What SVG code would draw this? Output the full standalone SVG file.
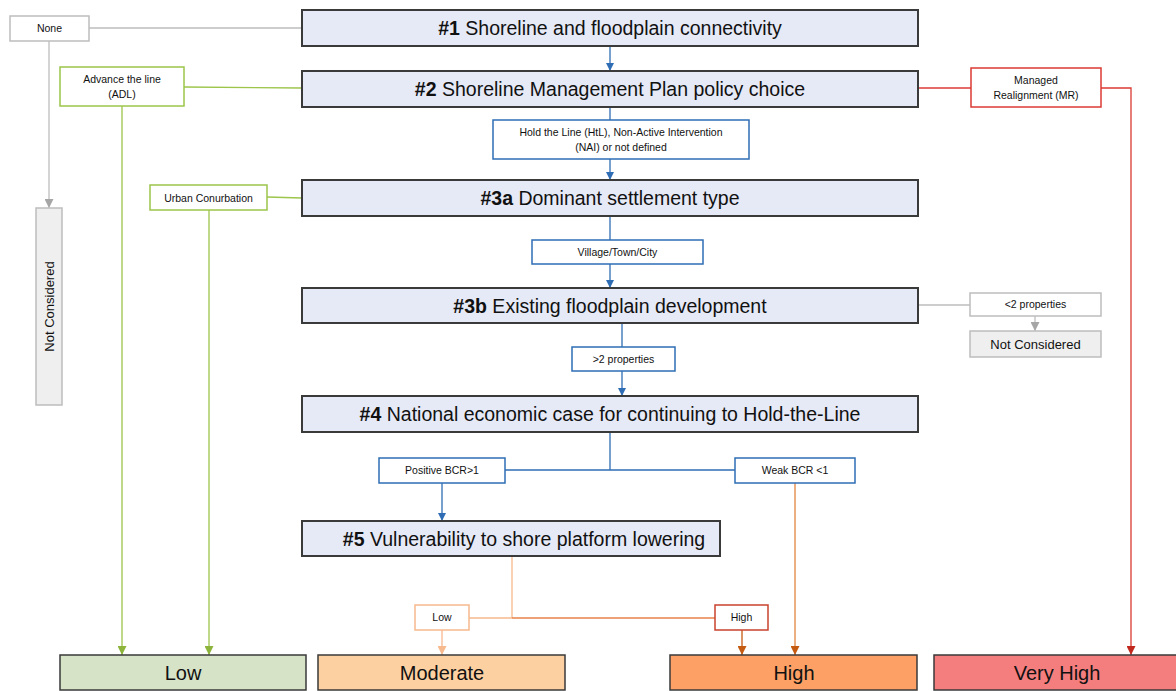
<svg xmlns="http://www.w3.org/2000/svg" width="1176" height="691" viewBox="0 0 1176 691">
<style>
text{font-family:"Liberation Sans",Arial,sans-serif;fill:#111;text-anchor:middle}
.q{fill:#e6e9f6;stroke:#3a3a3a;stroke-width:2}
.t{font-size:19.5px}
.t tspan.b{font-weight:bold}
.s{font-size:10.5px}
.lb{fill:#fff;stroke-width:1.5}
.blue{stroke:#2e6db4}
.grey{stroke:#bdbdbd}
.green{stroke:#9cc54a}
.red{stroke:#db3a34}
.lor{stroke:#f7b98e}
.dred{stroke:#c9412e}
.res{stroke:#3a3a3a;stroke-width:1.5}
.big{font-size:20px}
.c{fill:none;stroke-width:1.3}
</style>
<defs>
<marker id="ab" viewBox="0 0 10 10" refX="10" refY="5" markerWidth="8" markerHeight="8" markerUnits="userSpaceOnUse" orient="auto"><path d="M0,0L10,5L0,10z" fill="#2e6db4"/></marker>
<marker id="ag" viewBox="0 0 10 10" refX="10" refY="5" markerWidth="9" markerHeight="9" markerUnits="userSpaceOnUse" orient="auto"><path d="M0,0L10,5L0,10z" fill="#a6a6a6"/></marker>
<marker id="agr" viewBox="0 0 10 10" refX="10" refY="5" markerWidth="9" markerHeight="9" markerUnits="userSpaceOnUse" orient="auto"><path d="M0,0L10,5L0,10z" fill="#8db43a"/></marker>
<marker id="ar" viewBox="0 0 10 10" refX="10" refY="5" markerWidth="9" markerHeight="9" markerUnits="userSpaceOnUse" orient="auto"><path d="M0,0L10,5L0,10z" fill="#c0281e"/></marker>
<marker id="alo" viewBox="0 0 10 10" refX="10" refY="5" markerWidth="9" markerHeight="9" markerUnits="userSpaceOnUse" orient="auto"><path d="M0,0L10,5L0,10z" fill="#f7b98e"/></marker>
<marker id="ao" viewBox="0 0 10 10" refX="10" refY="5" markerWidth="9" markerHeight="9" markerUnits="userSpaceOnUse" orient="auto"><path d="M0,0L10,5L0,10z" fill="#c55a11"/></marker>
</defs>

<g id="connectors">
<path class="c grey" d="M89,28H302"/>
<path class="c grey" d="M49,41V208" marker-end="url(#ag)"/>
<path class="c grey" d="M918,305H970"/>
<path class="c grey" d="M1035,316V331" marker-end="url(#ag)"/>
<path class="c green" d="M184,87L302,88"/>
<path class="c green" d="M122,106V655" marker-end="url(#agr)"/>
<path class="c green" d="M267,197L302,198"/>
<path class="c green" d="M209,210V655" marker-end="url(#agr)"/>
<path class="c red" d="M918,88H971"/>
<path class="c red" d="M1101,88H1131V655" marker-end="url(#ar)"/>
<path class="c blue" d="M610,46V71" marker-end="url(#ab)"/>
<path class="c blue" d="M610,107V120"/>
<path class="c blue" d="M610,159V180" marker-end="url(#ab)"/>
<path class="c blue" d="M610,216V240"/>
<path class="c blue" d="M610,264V288" marker-end="url(#ab)"/>
<path class="c blue" d="M622,323V347"/>
<path class="c blue" d="M622,371V396" marker-end="url(#ab)"/>
<path class="c blue" d="M610,432V470M505,470H735"/>
<path class="c blue" d="M442,483V521" marker-end="url(#ab)"/>
<path class="c" stroke="#e2843f" d="M795,483V655" marker-end="url(#ao)"/>
<path class="c lor" d="M512,556V618M469,618H512"/>
<path class="c" stroke="#e9804a" d="M512,618H715"/>
<path class="c lor" d="M442,630V655" marker-end="url(#alo)"/>
<path class="c" stroke="#c55a11" d="M742,630V655" marker-end="url(#ao)"/>
</g>

<g id="n1"><rect class="q" x="302" y="10" width="616" height="36"/><text class="t" x="610" y="35"><tspan class="b">#1</tspan> Shoreline and floodplain connectivity</text></g>
<g id="n2"><rect class="q" x="302" y="71" width="616" height="36"/><text class="t" x="610" y="96"><tspan class="b">#2</tspan> Shoreline Management Plan policy choice</text></g>
<g id="n3a"><rect class="q" x="302" y="180" width="616" height="36"/><text class="t" x="610" y="205"><tspan class="b">#3a</tspan> Dominant settlement type</text></g>
<g id="n3b"><rect class="q" x="302" y="288" width="616" height="35"/><text class="t" x="610" y="313"><tspan class="b">#3b</tspan> Existing floodplain development</text></g>
<g id="n4"><rect class="q" x="302" y="396" width="616" height="36"/><text class="t" x="610" y="421"><tspan class="b">#4</tspan> National economic case for continuing to Hold-the-Line</text></g>
<g id="n5"><rect class="q" x="302" y="521" width="418" height="35"/><text class="t" x="524" y="546"><tspan class="b">#5</tspan> Vulnerability to shore platform lowering</text></g>

<g id="none"><rect class="lb grey" x="10" y="16" width="79" height="25"/><text class="s" x="49.5" y="32">None</text></g>
<g id="notconsidered-left"><rect x="36" y="208" width="26" height="197" fill="#efefef" stroke="#bdbdbd" stroke-width="1.5"/><text x="53.5" y="306.5" font-size="13" transform="rotate(-90 53.5 306.5)">Not Considered</text></g>
<g id="adl"><rect class="lb green" x="60" y="67" width="124" height="39"/><text class="s" x="122" y="83">Advance the line</text><text class="s" x="122" y="98">(ADL)</text></g>
<g id="urban"><rect class="lb green" x="150" y="185" width="117" height="25"/><text class="s" x="208.5" y="201.5" font-size="11">Urban Conurbation</text></g>
<g id="mr"><rect class="lb red" x="971" y="68" width="130" height="39"/><text class="s" x="1036" y="84">Managed</text><text class="s" x="1036" y="99">Realignment (MR)</text></g>
<g id="htl"><rect class="lb blue" x="493" y="120" width="256" height="39"/><text class="s" x="621" y="136">Hold the Line (HtL), Non-Active Intervention</text><text class="s" x="621" y="151">(NAI) or not defined</text></g>
<g id="village"><rect class="lb blue" x="532" y="240" width="171" height="24"/><text class="s" x="617.5" y="256">Village/Town/City</text></g>
<g id="lt2"><rect class="lb grey" x="970" y="293" width="131" height="23"/><text class="s" x="1035.5" y="308">&lt;2 properties</text></g>
<g id="notconsidered-right"><rect x="970" y="331" width="131" height="26" fill="#efefef" stroke="#bdbdbd" stroke-width="1.5"/><text x="1035.5" y="349" font-size="13">Not Considered</text></g>
<g id="gt2"><rect class="lb blue" x="572" y="347" width="103" height="24"/><text class="s" x="623.5" y="363">&gt;2 properties</text></g>
<g id="pos"><rect class="lb blue" x="379" y="458" width="126" height="25"/><text class="s" x="442" y="474">Positive BCR&gt;1</text></g>
<g id="weak"><rect class="lb blue" x="735" y="458" width="120" height="25"/><text class="s" x="795" y="474">Weak BCR &lt;1</text></g>
<g id="low-s"><rect class="lb lor" x="415" y="605" width="54" height="25"/><text class="s" x="442" y="621">Low</text></g>
<g id="high-s"><rect class="lb dred" x="715" y="605" width="53" height="25"/><text class="s" x="741.5" y="621">High</text></g>

<g id="r-low"><rect class="res" x="60" y="655" width="246" height="35" fill="#d7e3c7"/><text class="big" x="183" y="680">Low</text></g>
<g id="r-mod"><rect class="res" x="318" y="655" width="247" height="35" fill="#fdd0a1"/><text class="big" x="442" y="680">Moderate</text></g>
<g id="r-high"><rect class="res" x="670" y="655" width="247" height="35" fill="#fca065"/><text class="big" x="794" y="680">High</text></g>
<g id="r-vhigh"><rect class="res" x="934" y="655" width="246" height="35" fill="#f47e7e"/><text class="big" x="1057" y="680">Very High</text></g>
</svg>
